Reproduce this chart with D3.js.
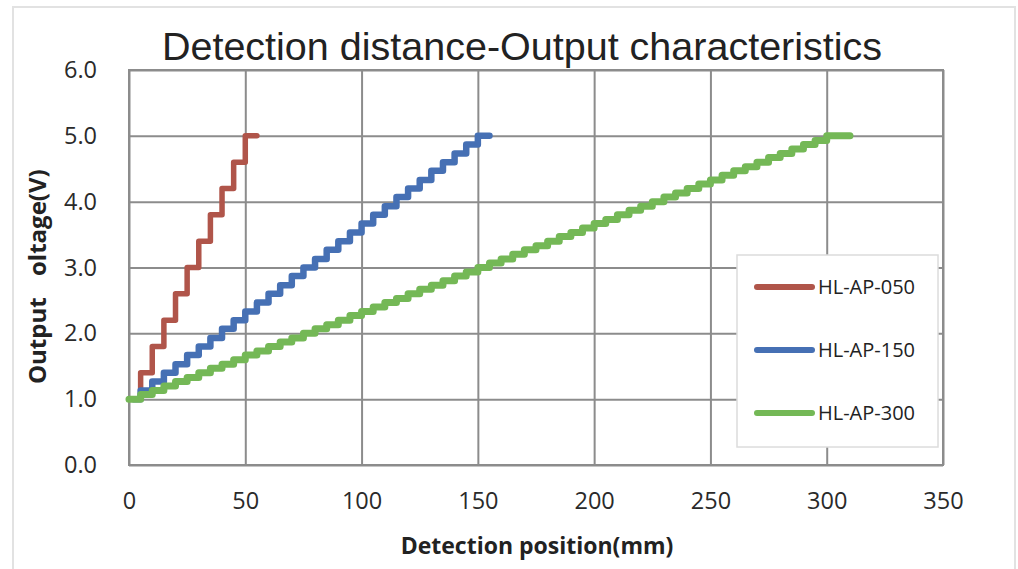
<!DOCTYPE html>
<html>
<head>
<meta charset="utf-8">
<script src="https://cdn.jsdelivr.net/npm/d3@7"></script>
<style>
  body { margin: 0; background: #fff; }
  svg { display: block; }
</style>
</head>
<body>
<svg width="1018" height="569"></svg>
<script>
// values
var seriesNames = ["HL-AP-050", "HL-AP-150", "HL-AP-300"];
var seriesColors = ["#b0554a", "#4670b4", "#74b856"];

var x050 = [5, 5, 10, 15, 20, 25, 30, 35, 40, 45, 50, 55];
var v050 = [1.0, 1.4, 1.8, 2.2, 2.6, 3.0, 3.4, 3.8, 4.2, 4.6, 5.0, 5.0];

var x150 = [2, 5, 10, 15, 20, 25, 30, 35, 40, 45, 50, 55, 60, 65, 70, 75, 80, 85, 90, 95,
            100, 105, 110, 115, 120, 125, 130, 135, 140, 145, 150, 155];
var v150 = [1.0, 1.13, 1.27, 1.40, 1.53, 1.67, 1.80, 1.93, 2.07, 2.20, 2.33, 2.47, 2.60, 2.73, 2.87, 3.00,
            3.13, 3.27, 3.40, 3.53, 3.67, 3.80, 3.93, 4.07, 4.20, 4.33, 4.47, 4.60, 4.73, 4.87, 5.00, 5.00];

var x300 = [0, 5, 10, 15, 20, 25, 30, 35, 40, 45, 50, 55, 60, 65, 70, 75, 80, 85, 90, 95,
            100, 105, 110, 115, 120, 125, 130, 135, 140, 145, 150, 155, 160, 165, 170, 175, 180, 185, 190, 195,
            200, 205, 210, 215, 220, 225, 230, 235, 240, 245, 250, 255, 260, 265, 270, 275, 280, 285, 290, 295,
            300, 310];
var v300 = [1.00, 1.07, 1.13, 1.20, 1.27, 1.33, 1.40, 1.47, 1.53, 1.60, 1.67, 1.73, 1.80, 1.87, 1.93, 2.00,
            2.07, 2.13, 2.20, 2.27, 2.33, 2.40, 2.47, 2.53, 2.60, 2.67, 2.73, 2.80, 2.87, 2.93, 3.00,
            3.07, 3.13, 3.20, 3.27, 3.33, 3.40, 3.47, 3.53, 3.60, 3.67, 3.73, 3.80, 3.87, 3.93, 4.00,
            4.07, 4.13, 4.20, 4.27, 4.33, 4.40, 4.47, 4.53, 4.60, 4.67, 4.73, 4.80, 4.87, 4.93, 5.00, 5.00];

var xTicks = [0, 50, 100, 150, 200, 250, 300, 350];
var yTicks = [0, 1, 2, 3, 4, 5, 6];

var svg = d3.select("svg");

var x = d3.scaleLinear().domain([0, 350]).range([129, 943]);
var y = d3.scaleLinear().domain([0, 6]).range([465, 70]);

// faint frame of the chart area
svg.append("rect")
    .attr("x", 13).attr("y", 7)
    .attr("width", 1002).attr("height", 580)
    .attr("fill", "none")
    .attr("stroke", "#e2e2e2")
    .attr("stroke-width", 2);

// title
svg.append("text")
    .attr("x", 522).attr("y", 60)
    .attr("text-anchor", "middle")
    .style("font-family", "Liberation Sans, Arial, sans-serif")
    .style("font-size", "39.5px")
    .attr("fill", "#222")
    .text("Detection distance-Output characteristics");

// axes carry the grid lines
var yAxis = d3.axisLeft(y)
    .tickValues(yTicks)
    .tickFormat(d3.format(".1f"))
    .tickSizeInner(-(x(350) - x(0)))
    .tickSizeOuter(0)
    .tickPadding(32);

var xAxis = d3.axisBottom(x)
    .tickValues(xTicks)
    .tickFormat(d3.format("d"))
    .tickSizeInner(-(y(0) - y(6)))
    .tickSizeOuter(0)
    .tickPadding(27);

var gy = svg.append("g")
    .attr("transform", "translate(" + x(0) + ",0)")
    .call(yAxis);

var gx = svg.append("g")
    .attr("transform", "translate(0," + y(0) + ")")
    .call(xAxis);

[gx, gy].forEach(function(g) {
    g.select(".domain").remove();
    g.selectAll("line").attr("stroke", "#8c8c8c").attr("stroke-width", 2);
    g.selectAll("text")
        .style("font-family", "Open Sans, sans-serif")
        .style("font-size", "23.5px")
        .attr("fill", "#2a2a2a");
});

svg.append("rect")
    .attr("x", x(0)).attr("y", y(6))
    .attr("width", x(350) - x(0)).attr("height", y(0) - y(6))
    .attr("fill", "none")
    .attr("stroke", "#8c8c8c")
    .attr("stroke-width", 2);

// axis titles
svg.append("text")
    .attr("x", 537).attr("y", 554)
    .attr("text-anchor", "middle")
    .style("font-family", "Open Sans, sans-serif")
    .style("font-size", "23px")
    .style("font-weight", "bold")
    .attr("fill", "#222")
    .text("Detection position(mm)");

var ylab = svg.append("g").attr("transform", "translate(46,0) rotate(-90)");
ylab.append("text")
    .attr("x", -384).attr("y", 0)
    .style("font-family", "Open Sans, sans-serif")
    .style("font-size", "24px")
    .style("font-weight", "bold")
    .attr("fill", "#222")
    .text("Output");
ylab.append("text")
    .attr("x", -276).attr("y", 0)
    .style("font-family", "Open Sans, sans-serif")
    .style("font-size", "24px")
    .style("font-weight", "bold")
    .attr("fill", "#222")
    .text("oltage(V)");

// staircase lines
var series = [
    { xs: x050, vs: v050, w: 5.5 },
    { xs: x150, vs: v150, w: 6.5 },
    { xs: x300, vs: v300, w: 7 }
];

var line = d3.line()
    .x(d => x(d[0]))
    .y(d => y(d[1]))
    .curve(d3.curveStepAfter);

series.forEach(function(s, i) {
    var pts = s.xs.map((xv, j) => [xv, s.vs[j]]);
    svg.append("path")
        .datum(pts)
        .attr("d", line)
        .attr("fill", "none")
        .attr("stroke", seriesColors[i])
        .attr("stroke-width", s.w)
        .attr("stroke-linejoin", "round")
        .attr("stroke-linecap", "round");
});

// legend
var legend = svg.append("g");
legend.append("rect")
    .attr("x", 737).attr("y", 255)
    .attr("width", 201).attr("height", 192)
    .attr("fill", "#fff")
    .attr("stroke", "#dcdcdc")
    .attr("stroke-width", 1.5);

var legendY = [287, 350, 413];
seriesNames.forEach(function(name, i) {
    legend.append("line")
        .attr("x1", 757).attr("x2", 812)
        .attr("y1", legendY[i]).attr("y2", legendY[i])
        .attr("stroke", seriesColors[i])
        .attr("stroke-width", 6)
        .attr("stroke-linecap", "round");
    legend.append("text")
        .attr("x", 818).attr("y", legendY[i] + 7)
        .style("font-family", "Open Sans, sans-serif")
        .style("font-size", "20px")
        .attr("fill", "#222")
        .text(name);
});
</script>
</body>
</html>
